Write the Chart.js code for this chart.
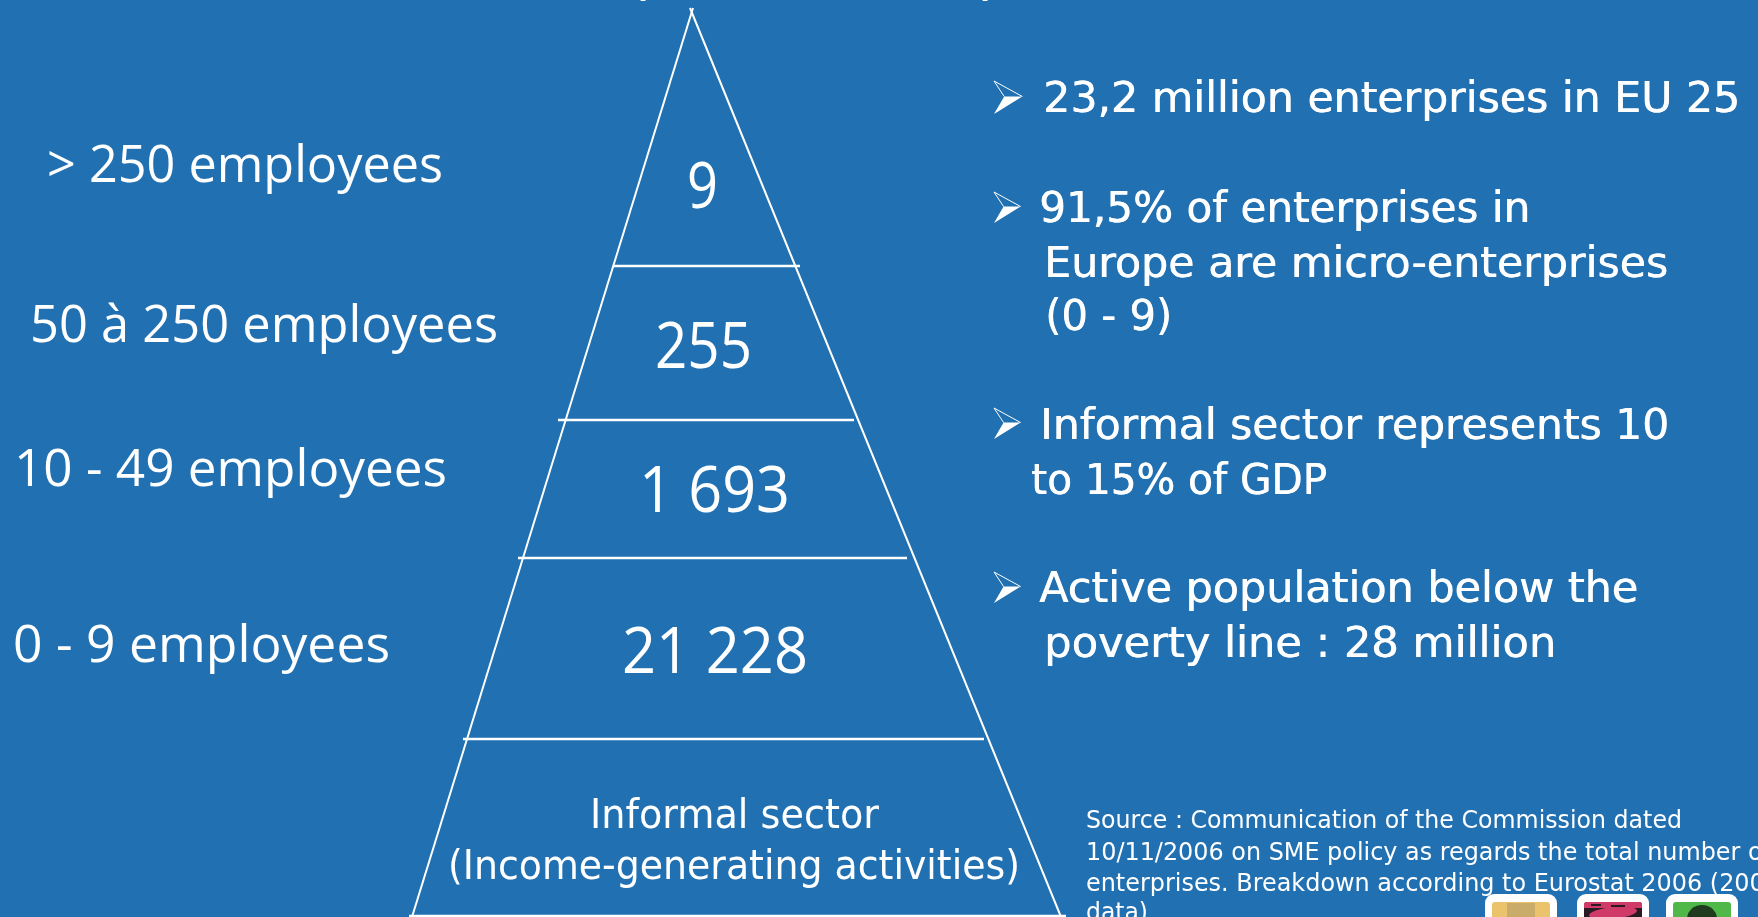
<!DOCTYPE html>
<html lang="en">
<head>
  <meta charset="UTF-8">
  <title>Enterprise pyramid</title>
  <style>
    html, body { margin: 0; padding: 0; background: #2170b2; overflow: hidden; }
    canvas { display: block; }
  </style>
  <script src="https://cdn.jsdelivr.net/npm/chart.js"></script>
</head>
<body>
  <canvas id="pyramid" width="1758" height="917"></canvas>

  <script>
    // pyramid outline and the floors between the size classes
    const leftEdgeX = [412, 693];
    const rightEdgeX = [1061, 690];
    const edgeY = [917, 8];
    const floorY = [266, 420, 558, 739, 916];
    const floorLeftX = [613, 558, 518, 463, 409];
    const floorRightX = [800, 854, 907, 984, 1066];

    // text
    const sizeClasses = ['> 250 employees', '50 à 250 employees', '10 - 49 employees', '0 - 9 employees'];
    const enterpriseCounts = ['9', '255', '1 693', '21 228'];
    const informalLines = ['Informal sector', '(Income-generating activities)'];
    const factLines = [
      '23,2 million enterprises in EU 25',
      '91,5% of enterprises in',
      'Europe are micro-enterprises',
      '(0 - 9)',
      'Informal sector represents 10',
      'to 15% of GDP',
      'Active population below the',
      'poverty line : 28 million'
    ];
    const sourceLines = [
      'Source : Communication of the Commission dated',
      '10/11/2006 on SME policy as regards the total number of',
      'enterprises. Breakdown according to Eurostat 2006 (2005',
      'data)'
    ];
    const titleTails = ['p', 'p'];
    const titleTailX = [636, 978];

    const FONT = '"DejaVu Sans"';
    const LIGHT_FONT = '"Open Sans"';
    const WHITE = '#ffffff';

    // [x, baseline, width] for each line, in the same units as the axes
    const sizeClassPos = [[47, 182, 396], [30, 342, 468], [14, 486, 433], [13, 662, 377]];
    const countPos = [[687, 208, 31], [655, 368, 97], [639, 512, 151], [622, 673, 186]];
    const informalPos = [[590, 828, 289], [448, 879, 572]];
    const factPos = [
      [1043, 112, 697], [1039, 222, 491], [1044, 277, 624], [1045, 330, 127],
      [1040, 439, 629], [1031, 494, 296], [1039, 602, 599], [1044, 657, 512]
    ];
    const sourcePos = [[1086, 828, 596], [1086, 860, 685], [1086, 891, 694], [1086, 920, 62]];
    const bulletY = [81, 192, 408, 572];
    const bulletHeight = [33, 31, 31, 31];
    const thumbX = [1485, 1577, 1666];

    function drawLine(ctx, text, pos, font, x, y, heavy) {
      ctx.save();
      ctx.font = font;
      ctx.fillStyle = WHITE;
      ctx.textBaseline = 'alphabetic';
      ctx.textAlign = 'left';
      if (heavy) {
        // hard offset shadow, thickens the stems a little
        ctx.shadowColor = WHITE;
        ctx.shadowBlur = 0;
        ctx.shadowOffsetX = 0.6;
      }
      const sx = pos[2] / ctx.measureText(text).width;
      ctx.translate(x.getPixelForValue(pos[0]), y.getPixelForValue(pos[1]));
      ctx.scale(sx, 1);
      ctx.fillText(text, 0, 0);
      ctx.restore();
    }

    function drawBullet(ctx, left, top, h) {
      const w = h * 0.86, mid = top + h * 0.47, inner = left + w * 0.36;
      ctx.save();
      ctx.fillStyle = WHITE;
      ctx.beginPath();
      ctx.moveTo(left, top + h);
      ctx.lineTo(inner, mid);
      ctx.lineTo(left + w, mid);
      ctx.closePath();
      ctx.fill();
      ctx.strokeStyle = WHITE;
      ctx.lineWidth = 1;
      ctx.beginPath();
      ctx.moveTo(inner, mid);
      ctx.lineTo(left, top);
      ctx.lineTo(left + w, mid);
      ctx.stroke();
      ctx.restore();
    }

    // portrait thumbnails peeking in at the bottom edge
    function drawThumb(ctx, x, kind) {
      ctx.save();
      ctx.fillStyle = WHITE;
      ctx.beginPath();
      ctx.roundRect(x, 894, 72, 40, 9);
      ctx.fill();
      ctx.beginPath();
      ctx.roundRect(x + 7, 902, 58, 30, 3);
      ctx.clip();
      if (kind === 0) {
        ctx.fillStyle = '#eac36c';
        ctx.fillRect(x + 7, 902, 58, 30);
        ctx.fillStyle = '#c9ac6a';
        ctx.fillRect(x + 22, 903, 28, 30);
      } else if (kind === 1) {
        ctx.fillStyle = '#2b1a24';
        ctx.fillRect(x + 7, 902, 58, 30);
        ctx.fillStyle = '#cf3a68';
        ctx.fillRect(x + 7, 902, 58, 6);
        ctx.beginPath();
        ctx.ellipse(x + 36, 913, 24, 6, -0.1, 0, Math.PI * 2);
        ctx.fill();
        ctx.fillStyle = '#2b1a24';
        ctx.fillRect(x + 14, 904, 10, 2);
        ctx.fillRect(x + 34, 905, 14, 2);
      } else {
        ctx.fillStyle = '#4fb848';
        ctx.fillRect(x + 7, 902, 58, 30);
        ctx.fillStyle = '#1f3a1e';
        ctx.beginPath();
        ctx.ellipse(x + 36, 919, 15, 14, 0, 0, Math.PI * 2);
        ctx.fill();
      }
      ctx.restore();
    }

    const slideText = {
      id: 'slideText',
      afterDatasetsDraw(chart) {
        const ctx = chart.ctx, x = chart.scales.x, y = chart.scales.y;
        // tails of the heading that runs off the top edge
        ctx.save();
        ctx.font = '52px ' + FONT;
        ctx.fillStyle = WHITE;
        titleTails.forEach((t, i) => ctx.fillText(t, titleTailX[i], -10));
        ctx.restore();
        sizeClasses.forEach((t, i) => drawLine(ctx, t, sizeClassPos[i], '52px ' + LIGHT_FONT, x, y));
        enterpriseCounts.forEach((t, i) => drawLine(ctx, t, countPos[i], '64px ' + LIGHT_FONT, x, y));
        informalLines.forEach((t, i) => drawLine(ctx, t, informalPos[i], '41px ' + FONT, x, y));
        factLines.forEach((t, i) => drawLine(ctx, t, factPos[i], '42px ' + FONT, x, y, true));
        sourceLines.forEach((t, i) => drawLine(ctx, t, sourcePos[i], '25.5px ' + FONT, x, y));
        bulletY.forEach((b, i) => drawBullet(ctx, x.getPixelForValue(994), y.getPixelForValue(b), bulletHeight[i]));
        thumbX.forEach((tx, i) => drawThumb(ctx, x.getPixelForValue(tx), i));
      }
    };

    const outline = [leftEdgeX, rightEdgeX].map(xs => ({
      data: xs.map((v, i) => ({ x: v, y: edgeY[i] })),
      showLine: true,
      borderColor: WHITE,
      borderWidth: 2,
      pointRadius: 0
    }));
    const floors = floorY.map((fy, i) => ({
      data: [{ x: floorLeftX[i], y: fy }, { x: floorRightX[i], y: fy }],
      showLine: true,
      borderColor: WHITE,
      borderWidth: 2.5,
      pointRadius: 0
    }));

    new Chart(document.getElementById('pyramid'), {
      type: 'scatter',
      data: { datasets: outline.concat(floors) },
      options: {
        responsive: false,
        animation: false,
        layout: { padding: 0 },
        plugins: { legend: { display: false }, tooltip: { enabled: false } },
        scales: {
          x: { type: 'linear', min: 0, max: 1758, display: false },
          y: { type: 'linear', min: 0, max: 917, reverse: true, display: false }
        }
      },
      plugins: [slideText]
    });
  </script>
</body>
</html>
